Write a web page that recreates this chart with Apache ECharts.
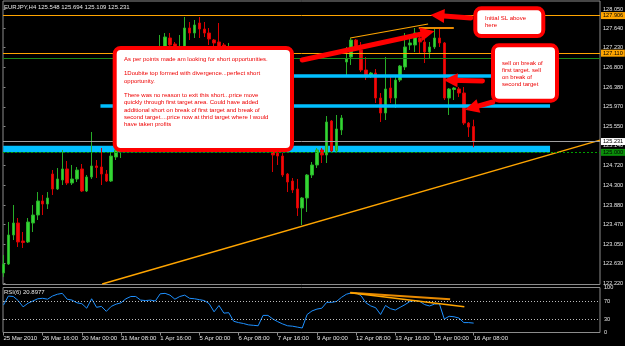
<!DOCTYPE html>
<html>
<head>
<meta charset="utf-8">
<title>EURJPY,H4</title>
<script src="https://cdn.jsdelivr.net/npm/echarts@6/dist/echarts.min.js"></script>
<style>
  html, body { margin: 0; padding: 0; background: #000; }
  #chart { width: 625px; height: 346px; }
</style>
</head>
<body>
<div id="chart"></div>
<script>
// time axis: a label every 8 H4 bars
const timeTickIdx = [0, 8, 16, 24, 32, 40, 48, 56, 64, 72, 80, 88, 96]
const timeTickText = ['25 Mar 2010', '26 Mar 16:00', '30 Mar 00:00', '31 Mar 08:00', '1 Apr 16:00',
  '5 Apr 00:00', '6 Apr 08:00', '7 Apr 16:00', '9 Apr 00:00', '12 Apr 08:00',
  '13 Apr 16:00', '15 Apr 00:00', '16 Apr 08:00']
const priceTicks = [128.05, 127.64, 127.23, 126.8, 126.38, 125.97, 125.55, 125.14,
  124.72, 124.3, 123.88, 123.47, 123.05, 122.63, 122.22]
const rsiTicks = [0, 30, 70, 100]

// EURJPY H4 bars (25 Mar 08:00 .. 16 Apr 08:00)
const opens = [122.433, 122.624, 123.242, 123.497, 123.114, 123.093, 123.497, 123.667, 123.965, 123.901,
  124.539, 124.220, 124.412, 124.646, 124.348, 124.433, 124.646, 124.178, 124.476, 124.710,
  124.688, 124.539, 124.390, 124.901, 125.050, 125.263, 125.582, 125.433, 125.901, 126.220,
  126.071, 126.539, 126.859, 127.135, 127.433, 127.305, 127.071, 127.135, 127.646, 127.539,
  127.752, 127.624, 127.539, 127.390, 127.348, 127.284, 127.007, 127.071, 126.752, 126.433,
  126.582, 126.114, 125.795, 126.008, 125.476, 125.263, 124.986, 124.922, 124.539, 124.390,
  124.220, 123.816, 124.029, 124.518, 124.731, 125.050, 124.944, 125.667, 125.029, 125.476,
  126.922, 127.029, 127.390, 127.178, 126.752, 126.624, 126.688, 126.156, 125.837, 126.369,
  126.156, 126.539, 126.816, 127.284, 127.284, 127.433, 127.348, 127.135, 127.242, 127.433,
  127.327, 126.156, 126.337, 126.348, 126.263, 125.624, 125.548]
const highs = [122.816, 123.518, 123.880, 123.603, 123.305, 123.603, 123.880, 124.156, 124.093, 124.156,
  124.624, 124.667, 125.050, 124.816, 124.731, 124.688, 124.752, 124.518, 125.433, 124.837,
  125.093, 124.624, 125.007, 125.263, 125.369, 125.688, 125.731, 126.008, 126.369, 126.327,
  126.646, 127.007, 127.497, 127.539, 127.539, 127.348, 127.497, 127.880, 127.773, 127.816,
  127.880, 127.773, 127.646, 127.412, 127.752, 127.327, 127.327, 127.178, 126.922, 126.710,
  126.646, 126.220, 126.114, 126.071, 125.582, 125.369, 125.093, 124.986, 124.561, 124.454,
  124.433, 124.050, 124.539, 124.795, 125.093, 125.093, 125.773, 125.688, 125.795, 125.795,
  127.242, 127.433, 127.412, 127.348, 127.029, 126.710, 126.773, 126.263, 127.029, 126.624,
  126.646, 126.859, 127.539, 127.433, 127.646, 127.561, 127.497, 127.348, 127.624, 127.624,
  127.348, 126.369, 126.390, 126.390, 126.390, 125.646, 125.694]
const lows = [122.348, 122.603, 123.135, 122.986, 122.965, 123.071, 123.305, 123.561, 123.667, 123.795,
  124.093, 124.199, 124.305, 124.305, 124.305, 124.369, 124.156, 124.156, 124.433, 124.454,
  124.305, 124.369, 124.369, 124.837, 124.880, 125.156, 125.305, 125.369, 125.795, 125.944,
  126.008, 126.433, 126.752, 127.071, 127.220, 127.007, 126.965, 127.071, 127.390, 127.433,
  127.433, 127.454, 127.284, 127.242, 127.071, 126.965, 126.922, 126.646, 126.284, 126.327,
  126.008, 125.688, 125.646, 125.369, 125.156, 124.582, 124.731, 124.476, 124.156, 124.135,
  123.646, 123.454, 123.731, 124.454, 124.667, 124.773, 124.773, 125.007, 125.007, 125.369,
  126.603, 126.859, 127.178, 126.710, 126.539, 126.582, 126.050, 125.646, 125.688, 126.050,
  125.944, 126.497, 126.752, 127.178, 127.135, 127.114, 126.901, 127.007, 127.199, 127.242,
  126.114, 125.795, 126.114, 126.178, 125.582, 125.327, 125.109]
const closes = [122.624, 123.242, 123.497, 123.093, 123.082, 123.518, 123.667, 123.965, 123.901, 124.029,
  124.220, 124.433, 124.646, 124.348, 124.433, 124.624, 124.178, 124.476, 124.710, 124.678,
  124.539, 124.390, 124.922, 125.050, 125.263, 125.582, 125.433, 125.901, 126.220, 126.071,
  126.539, 126.859, 127.178, 127.454, 127.284, 127.135, 127.220, 127.646, 127.539, 127.710,
  127.624, 127.539, 127.412, 127.327, 127.178, 127.071, 127.178, 126.752, 126.433, 126.582,
  126.114, 125.795, 126.008, 125.476, 125.263, 124.944, 124.922, 124.518, 124.369, 124.199,
  123.816, 124.029, 124.518, 124.731, 125.050, 124.944, 125.646, 125.029, 125.497, 125.731,
  126.986, 127.390, 127.242, 126.752, 126.603, 126.688, 126.156, 125.837, 126.348, 126.156,
  126.539, 126.837, 127.242, 127.327, 127.539, 127.348, 127.135, 127.242, 127.433, 127.327,
  126.156, 126.348, 126.369, 126.263, 125.624, 125.539, 125.231]

// RSI(6)
const rsiValues = [61, 81, 80, 71, 57, 65, 70, 75, 76, 74,
  81, 85, 87, 74, 72, 66, 64, 54, 75, 56,
  58, 47, 58, 63, 66, 75, 80, 80, 72, 71,
  72, 70, 86, 87, 83, 74, 80, 83, 76, 75,
  73, 71, 64, 46, 60, 43, 44, 25, 22, 20,
  17, 16, 15, 38, 38, 30, 24, 19, 15, 14,
  12, 10, 40, 48, 52, 54, 67, 67, 69, 78,
  85, 88, 88, 82, 66, 59, 55, 40, 60, 53,
  50, 56, 62, 69, 71, 69, 62, 59, 63, 64,
  30, 36, 35, 32, 22, 22, 20.8977]

// chart objects: levels, target zone and lines (price / bar index)
const stopLevels = [127.906, 127.110]
const greenLevel = 127.000
const bidLevel = 125.231
const roundLevel = 125.000
const targetZone = [125.140, 125.000]
const targetLines = [126.630, 125.990]
const targetLineFrom = [36, 19.8]
const targetEnd = 111.6
const supportLine = [[20.15, 122.199], [121.8, 125.26]]
const topLine = [[70.8, 127.433], [86.7, 127.731]]
const topLevel = [[84.8, 127.652], [91.95, 127.652]]
const rsiLineA = [[70.8, 88.5], [91.2, 73.7]]
const rsiLineB = [[70.8, 88.5], [94.1, 57]]
// red arrows drawn on the chart [from, to]
const arrows = [
  [[61.0, 126.965], [86.6, 127.545]],
  [[95.4, 127.858], [88.6, 127.912]],
  [[97.8, 126.518], [91.3, 126.536]],
  [[99.9, 126.071], [95.6, 125.945]]
]

const note1 = [
  'As per points made am looking for short opportunities.',
  '',
  '1Doubite top formed with divergence...perfect short',
  'opportunity.',
  '',
  'There was no reason to exit this short...price move',
  'quickly through first target area. Could have added',
  'additional short on break of first target and break of',
  'second target....price now at thrid target where I would',
  'have taken profits'
]
const note2 = ['Initial SL above', 'here']
const note3 = ['sell on break of', 'first target. sell', 'on break of', 'second target']

const FONT = '"Liberation Sans", Arial, sans-serif'
const axisText = '#e6e6e6'
const frame = '#8c8c8c'
const cyan = '#00bfff'
const orange = '#ffa500'

const chart = echarts.init(document.getElementById('chart'))

const candleData = opens.map((o, i) => [i, o, closes[i], lows[i], highs[i]])
const rsiData = rsiValues.map((v, i) => [i, v])

const seg = (pts, style) => [{ coord: pts[0], lineStyle: style }, { coord: pts[1] }]
const tag = (value, bg, fg) => ({
  yAxis: value,
  label: {
    show: true, position: 'end', distance: 1, formatter: value.toFixed(3),
    backgroundColor: bg, color: fg, fontSize: 5.6, fontFamily: FONT, padding: [1, 2, 0, 2]
  }
})

const noteBox = (x, y, w, h) => ({
  type: 'rect', z: 100,
  shape: { x: x, y: y, width: w, height: h, r: 6 },
  style: { fill: '#ffffff', stroke: '#ff0000', lineWidth: 4 }
})
const noteText = (lines, x, y, lh) => ({
  type: 'text', z: 101,
  style: {
    text: lines.join('\n'), x: x, y: y, fill: '#ee0000',
    font: '6px ' + FONT, lineHeight: lh, align: 'left', verticalAlign: 'top'
  }
})

chart.setOption({
  backgroundColor: '#000',
  animation: false,
  title: [
    { text: 'EURJPY,H4 125.548 125.694 125.109 125.231', left: 4, top: 4, padding: 0,
      textStyle: { color: axisText, fontSize: 6, fontWeight: 'normal', fontFamily: FONT } },
    { text: 'RSI(6) 20.8977', left: 4, top: 289, padding: 0,
      textStyle: { color: axisText, fontSize: 6, fontWeight: 'normal', fontFamily: FONT } }
  ],
  grid: [
    { left: 3, right: 25, top: 1, height: 283.5, show: true, borderColor: frame, borderWidth: 1,
      containLabel: false, outerBoundsMode: 'none' },
    { left: 3, right: 25, top: 287.5, height: 45, show: true, borderColor: frame, borderWidth: 1,
      containLabel: false, outerBoundsMode: 'none' }
  ],
  xAxis: [
    { type: 'value', gridIndex: 0, min: -0.1, max: 121.8,
      axisLine: { show: false }, axisTick: { show: false }, axisLabel: { show: false }, splitLine: { show: false } },
    { type: 'value', gridIndex: 1, min: -0.1, max: 121.8,
      axisLine: { show: false }, splitLine: { show: false },
      axisTick: { show: true, customValues: timeTickIdx, length: 3, lineStyle: { color: frame } },
      axisLabel: {
        show: true, customValues: timeTickIdx, align: 'left', margin: 3,
        color: axisText, fontSize: 6, fontFamily: FONT,
        formatter: (v) => timeTickText[timeTickIdx.indexOf(v)]
      } }
  ],
  yAxis: [
    { type: 'value', gridIndex: 0, position: 'right', min: 122.1883, max: 128.2202,
      axisLine: { show: false }, splitLine: { show: false },
      axisTick: { show: true, customValues: priceTicks, length: 2, lineStyle: { color: frame } },
      axisLabel: { show: true, customValues: priceTicks, margin: 3, color: axisText, fontSize: 5.6,
        fontFamily: FONT, formatter: (v) => v.toFixed(3) } },
    { type: 'value', gridIndex: 1, position: 'right', min: 0, max: 100,
      axisLine: { show: false }, splitLine: { show: false },
      axisTick: { show: true, customValues: rsiTicks, length: 2, lineStyle: { color: frame } },
      axisLabel: { show: true, customValues: rsiTicks, margin: 4, color: axisText, fontSize: 5.6,
        fontFamily: FONT, formatter: (v) => String(v) } }
  ],
  series: [
    // horizontal levels with price tags on the axis
    {
      type: 'line', xAxisIndex: 0, yAxisIndex: 0, data: [], z: 1,
      markLine: {
        silent: true, symbol: 'none', animation: false,
        label: { show: false },
        data: [
          Object.assign(tag(stopLevels[0], orange, '#000'), { lineStyle: { color: orange, width: 1, type: 'solid' } }),
          Object.assign(tag(stopLevels[1], orange, '#000'), { lineStyle: { color: orange, width: 1, type: 'solid' } }),
          { yAxis: greenLevel, lineStyle: { color: '#1a8a1a', width: 1, type: 'solid' } },
          Object.assign(tag(bidLevel, '#ffffff', '#000'), { lineStyle: { color: '#a0a0a0', width: 1, type: 'solid' } }),
          Object.assign(tag(roundLevel, '#0a8f0a', '#000'), { lineStyle: { color: '#00a000', width: 1, type: [2, 2] } })
        ]
      }
    },
    {
      name: 'EURJPY,H4',
      type: 'candlestick', xAxisIndex: 0, yAxisIndex: 0, z: 2,
      barWidth: 3,
      data: candleData,
      itemStyle: {
        color: '#34d634', color0: '#ee0c0c',
        borderColor: '#27ad27', borderColor0: '#d80000', borderWidth: 1
      }
    },
    // target zone, target lines and drawn trend lines
    {
      type: 'line', xAxisIndex: 0, yAxisIndex: 0, data: [], z: 3,
      markArea: {
        silent: true,
        itemStyle: { color: cyan, opacity: 1 },
        data: [[{ coord: [-0.05, targetZone[0]] }, { coord: [targetEnd, targetZone[1]] }]]
      },
      markLine: {
        silent: true, symbol: 'none', animation: false, label: { show: false },
        data: [
          seg([[targetLineFrom[0], targetLines[0]], [targetEnd, targetLines[0]]], { color: cyan, width: 3.5, type: 'solid' }),
          seg([[targetLineFrom[1], targetLines[1]], [targetEnd, targetLines[1]]], { color: cyan, width: 3.5, type: 'solid' }),
          seg(topLine, { color: orange, width: 1.2, type: 'solid' }),
          seg(topLevel, { color: '#e88a00', width: 2, type: 'solid' })
        ]
      }
    },
    {
      type: 'line', xAxisIndex: 0, yAxisIndex: 0, z: 3,
      data: supportLine, symbol: 'none', silent: true,
      lineStyle: { color: orange, width: 1.4 }
    },
    // red arrows
    {
      type: 'line', xAxisIndex: 0, yAxisIndex: 0, data: [], z: 4,
      markLine: {
        silent: true, animation: false, label: { show: false },
        symbol: ['none', 'triangle'], symbolSize: 14,
        lineStyle: { color: '#ff0000', width: 5, type: 'solid', cap: 'round' },
        itemStyle: { color: '#ff0000' },
        data: arrows.map((a) => [{ coord: a[0] }, { coord: a[1] }])
      }
    },
    // RSI window
    {
      name: 'RSI(6)', type: 'line', xAxisIndex: 1, yAxisIndex: 1, z: 3,
      data: rsiData, symbol: 'none', silent: true,
      lineStyle: { color: '#1e90ff', width: 1 },
      markLine: {
        silent: true, symbol: 'none', animation: false, label: { show: false },
        data: [
          { yAxis: 70, lineStyle: { color: '#bdbdbd', width: 1, type: [1, 2] } },
          { yAxis: 30, lineStyle: { color: '#bdbdbd', width: 1, type: [1, 2] } },
          seg(rsiLineA, { color: '#e88a00', width: 2, type: 'solid' }),
          seg(rsiLineB, { color: orange, width: 1.5, type: 'solid' })
        ]
      }
    }
  ],
  graphic: [
    noteBox(114.7, 48, 177.3, 102),
    noteText(note1, 124, 55.3, 7.3),
    noteBox(475.3, 8.3, 68, 27.7),
    noteText(note2, 485, 14.8, 6.8),
    noteBox(493, 45.3, 64, 55.4),
    noteText(note3, 502, 59.8, 6.9)
  ]
})
</script>
</body>
</html>
